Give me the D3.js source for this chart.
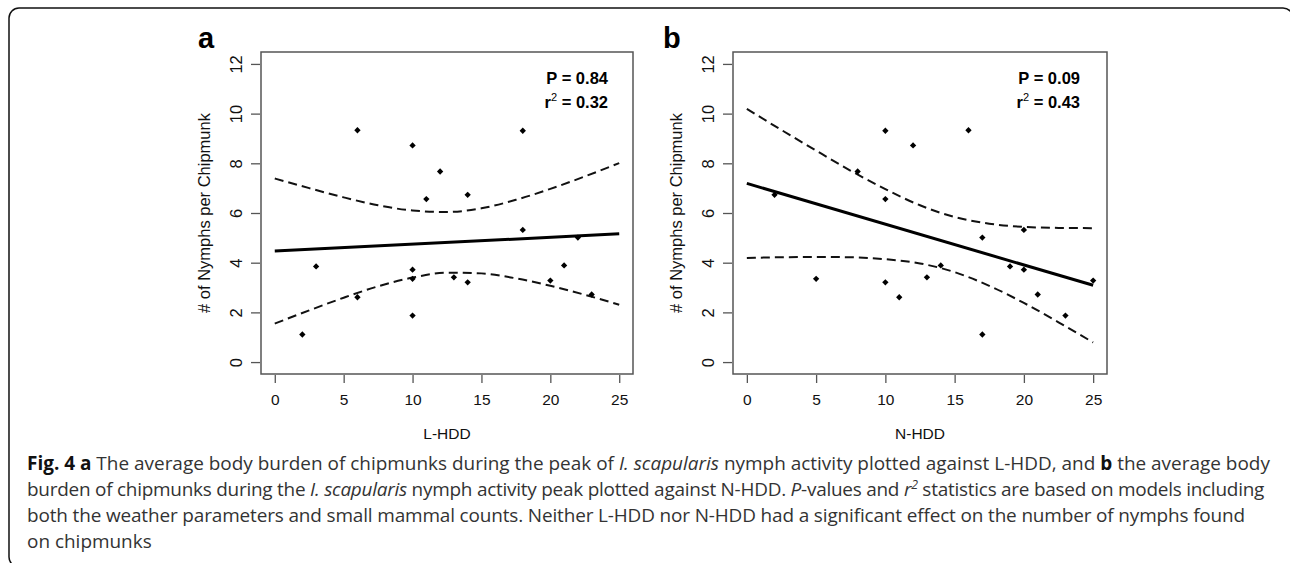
<!DOCTYPE html>
<html>
<head>
<meta charset="utf-8">
<script src="https://cdn.jsdelivr.net/npm/d3@7"></script>
<style>
  body { margin: 0; background: #fff; }
  svg { display: block; }
</style>
</head>
<body>
<div id="chart"></div>
<script>
/* globals d3 */

// nymphs per chipmunk, same sites in both panels
const nymphs = [9.33, 8.72, 7.67, 9.31, 6.73, 6.56, 5.32, 5.01, 3.85, 3.72, 3.35, 3.41, 3.21, 3.89, 3.28, 2.61, 2.72, 1.87, 1.11]
const lhdd = [6, 10, 12, 18, 14, 11, 18, 22, 3, 10, 10, 13, 14, 21, 20, 6, 23, 10, 2]
const nhdd = [16, 12, 8, 10, 2, 10, 20, 17, 19, 20, 5, 13, 10, 14, 25, 11, 21, 23, 17]

// fitted lines (ends) and confidence bands
const fitX = [0, 25]
const fitA = [4.47, 5.16]
const fitB = [7.19, 3.09]
const bandX = [0, 2.5, 5, 7.5, 10, 12.5, 15, 17.5, 20, 22.5, 25]
const upperA = [7.39, 7.00, 6.63, 6.31, 6.10, 6.04, 6.19, 6.53, 6.97, 7.47, 8.01]
const lowerA = [1.55, 2.08, 2.59, 3.05, 3.40, 3.60, 3.57, 3.37, 3.07, 2.71, 2.31]
const upperB = [10.19, 9.34, 8.51, 7.70, 6.96, 6.31, 5.84, 5.57, 5.44, 5.40, 5.39]
const lowerB = [4.19, 4.22, 4.23, 4.22, 4.14, 3.97, 3.62, 3.07, 2.38, 1.60, 0.79]

const xTicks = [0, 5, 10, 15, 20, 25]
const yTicks = [0, 2, 4, 6, 8, 10, 12]

const stats = [['0.84', '0.32'], ['0.09', '0.43']]

const capLines = [
  [['Fig. 4 a', 'b'], [' The average body burden of chipmunks during the peak of ', ''], ['I. scapularis', 'i'], [' nymph activity plotted against L-HDD, and ', ''], ['b', 'b'], [' the average body', '']],
  [['burden of chipmunks during the ', ''], ['I. scapularis', 'i'], [' nymph activity peak plotted against N-HDD. ', ''], ['P', 'i'], ['-values and ', ''], ['r', 'i'], ['2', 'sup'], [' statistics are based on models including', '']],
  [['both the weather parameters and small mammal counts. Neither L-HDD nor N-HDD had a significant effect on the number of nymphs found', '']],
  [['on chipmunks', '']]
]

const W = 1290
const H = 563
const axisFont = '"Liberation Sans", Arial, Helvetica, sans-serif'

const svg = d3.select('#chart').append('svg').attr('width', W).attr('height', H)

// outer rounded frame, runs off the right and bottom edges
svg.append('rect')
    .attr('x', 9).attr('y', 8)
    .attr('width', 1284).attr('height', 559)
    .attr('rx', 10)
    .attr('fill', 'none')
    .attr('stroke', '#111')
    .attr('stroke-width', 1.5)

const panels = [
  { key: 'a', left: 261, width: 372, labelX: 198, xs: lhdd, xTitle: 'L-HDD', fit: fitA, upper: upperA, lower: lowerA, stat: stats[0] },
  { key: 'b', left: 733, width: 374, labelX: 663, xs: nhdd, xTitle: 'N-HDD', fit: fitB, upper: upperB, lower: lowerB, stat: stats[1] }
]
const plotTop = 52
const plotBottom = 374

panels.forEach(drawPanel)

function drawPanel (p) {
  const x = d3.scaleLinear().domain([-1, 26]).range([p.left, p.left + p.width])
  const y = d3.scaleLinear().domain([-0.48, 12.48]).range([plotBottom, plotTop])
  const g = svg.append('g').attr('font-family', axisFont)

  // box
  g.append('rect')
      .attr('x', p.left).attr('y', plotTop)
      .attr('width', p.width).attr('height', plotBottom - plotTop)
      .attr('fill', 'none')
      .attr('stroke', '#555')
      .attr('stroke-width', 1.5)

  // axes
  const xAxis = g.append('g')
      .attr('transform', 'translate(0,' + (plotBottom + 1) + ')')
      .call(d3.axisBottom(x).tickValues(xTicks).tickSize(8).tickFormat(d3.format('d')))
  const yAxis = g.append('g')
      .attr('transform', 'translate(' + (p.left - 1) + ',0)')
      .call(d3.axisLeft(y).tickValues(yTicks).tickSize(9).tickFormat(d3.format('d')))

  ;[xAxis, yAxis].forEach(function (a) {
    a.select('.domain').remove()
    a.selectAll('line').attr('stroke', '#555').attr('stroke-width', 1.3)
    a.selectAll('text').attr('fill', '#111')
  })
  xAxis.selectAll('text').attr('font-size', 15.5).attr('y', 30).attr('dy', 0)
  yAxis.selectAll('text')
      .attr('font-size', 16.5)
      .attr('transform', 'rotate(-90)')
      .attr('x', 0).attr('y', -18.5).attr('dy', 0)
      .attr('text-anchor', 'middle')

  // axis titles
  g.append('text')
      .attr('x', p.left + p.width / 2).attr('y', 438.5)
      .attr('text-anchor', 'middle')
      .attr('font-size', 15.5)
      .attr('fill', '#111')
      .text(p.xTitle)
  g.append('text')
      .attr('transform', 'translate(' + (p.left - 51) + ',' + ((plotTop + plotBottom) / 2) + ') rotate(-90)')
      .attr('text-anchor', 'middle')
      .attr('font-size', 16.5)
      .attr('fill', '#111')
      .text('# of Nymphs per Chipmunk')

  // panel letter
  g.append('text')
      .attr('x', p.labelX).attr('y', 48)
      .attr('font-size', 29)
      .attr('font-weight', 'bold')
      .attr('fill', '#000')
      .text(p.key)

  // confidence bands
  const band = d3.line()
      .x((d, i) => x(bandX[i]))
      .y((d) => y(d))
      .curve(d3.curveMonotoneX)
  ;[p.upper, p.lower].forEach(function (b) {
    g.append('path')
        .attr('d', band(b))
        .attr('fill', 'none')
        .attr('stroke', '#111')
        .attr('stroke-width', 2)
        .attr('stroke-dasharray', '9,5')
  })

  // fitted line
  g.append('path')
      .attr('d', d3.line().x((d, i) => x(fitX[i])).y((d) => y(d))(p.fit))
      .attr('fill', 'none')
      .attr('stroke', '#000')
      .attr('stroke-width', 3)

  // points
  const diamond = d3.symbol(d3.symbolSquare, 20)
  g.append('g').selectAll('path')
      .data(nymphs)
      .enter().append('path')
        .attr('d', diamond)
        .attr('transform', (d, i) => 'translate(' + x(p.xs[i]) + ',' + y(d) + ') rotate(45)')
        .attr('fill', '#000')

  // P and r2
  const sx = p.left + 347
  g.append('text')
      .attr('x', sx).attr('y', 84)
      .attr('text-anchor', 'end')
      .attr('font-size', 16.5)
      .attr('font-weight', 'bold')
      .text('P = ' + p.stat[0])
  const r2 = g.append('text')
      .attr('x', sx).attr('y', 108)
      .attr('text-anchor', 'end')
      .attr('font-size', 16.5)
      .attr('font-weight', 'bold')
  r2.append('tspan').text('r')
  r2.append('tspan').attr('dy', -7).attr('font-size', 11).attr('font-weight', 'normal').text('2')
  r2.append('tspan').attr('dy', 7).text(' = ' + p.stat[1])
}

// caption
const capLeft = 27
const capRight = [1270, 1264, 1245]
const cap = svg.append('g')
    .attr('font-family', '"Open Sans", "Noto Sans", sans-serif')
    .attr('fill', '#333')
    .attr('font-size', 19)

const capNodes = capLines.map(function (segs, li) {
  const t = cap.append('text')
      .attr('x', capLeft)
      .attr('y', 469.5 + li * 26.2)
  let raised = false
  segs.forEach(function (s) {
    const ts = t.append('tspan').text(s[0])
    if (s[1] === 'b') ts.attr('font-weight', 'bold').attr('fill', '#111')
    if (s[1] === 'i') ts.attr('font-style', 'italic')
    if (s[1] === 'sup') {
      ts.attr('font-size', '0.65em').attr('dy', -7).attr('font-style', 'italic')
      raised = true
    } else if (raised) {
      ts.attr('dy', 7)
      raised = false
    }
  })
  return t.node()
})

// size the caption from the first line, then nudge letter spacing so
// each wrapped line ends where it does in the figure
const w0 = capNodes[0].getComputedTextLength()
cap.attr('font-size', 19 * (capRight[0] - capLeft) / w0)
capNodes.forEach(function (node, i) {
  if (i >= capRight.length) return
  const w = node.getComputedTextLength()
  const n = node.textContent.length
  d3.select(node).attr('letter-spacing', ((capRight[i] - capLeft - w) / n).toFixed(3))
})
</script>
</body>
</html>
